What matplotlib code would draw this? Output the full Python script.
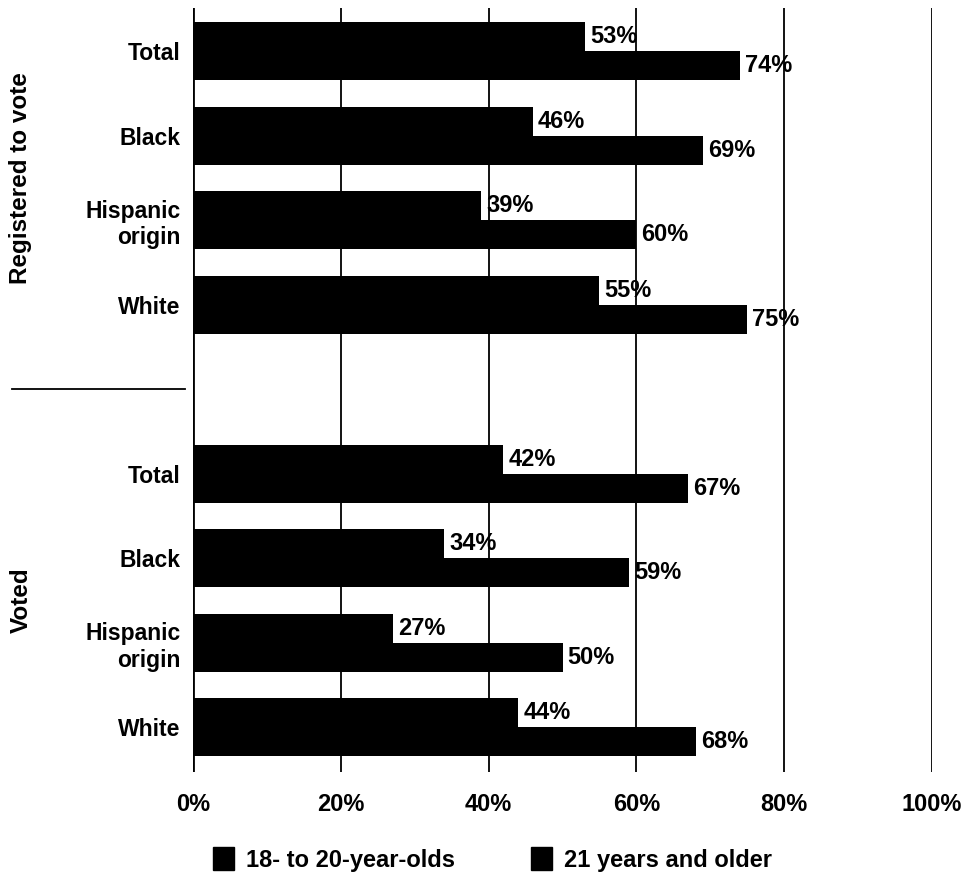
import numpy as np
import matplotlib
matplotlib.use("Agg")
import matplotlib.pyplot as plt
from matplotlib.patches import Patch
import matplotlib.transforms as mtransforms

plt.rcParams['font.family'] = ['Liberation Sans', 'DejaVu Sans']
plt.rcParams['font.weight'] = 'bold'

categories = ['Total', 'Black', 'Hispanic\norigin', 'White']
groups = ['Registered to vote', 'Voted']
series_names = ['18- to 20-year-olds', '21 years and older']

reg_young = [53, 46, 39, 55]
reg_older = [74, 69, 60, 75]
voted_young = [42, 34, 27, 44]
voted_older = [67, 59, 50, 68]
xticks = [0, 20, 40, 60, 80, 100]
xtick_labels = ['0%', '20%', '40%', '60%', '80%', '100%']

fig = plt.figure(figsize=(9.71, 8.76), dpi=100)
ax = fig.add_axes([0.1988, 0.1187, 0.761, 0.872])

# slot positions: 4 rows, one empty slot, 4 rows
pos_reg = np.arange(4)
pos_voted = np.arange(5, 9)
h = 0.343

young = reg_young + voted_young
older = reg_older + voted_older
pos = np.concatenate([pos_reg, pos_voted])

ax.barh(pos - h / 2, young, height=h, color='black', zorder=3)
ax.barh(pos + h / 2, older, height=h, color='black', zorder=3)

for p, v in zip(pos, young):
    ax.text(v + 0.7, p - h / 2, f'{v}%', va='center', ha='left',
            fontsize=17, fontweight='bold', zorder=4)
for p, v in zip(pos, older):
    ax.text(v + 0.7, p + h / 2, f'{v}%', va='center', ha='left',
            fontsize=17, fontweight='bold', zorder=4)

# grid lines
ax.axvline(0, color='black', lw=2, zorder=2)
for x in xticks[1:]:
    ax.axvline(x, color='black', lw=1.3, zorder=1)

ax.set_xlim(0, 100)
ax.set_ylim(8.53, -0.51)
for s in ax.spines.values():
    s.set_visible(False)

ax.set_xticks(xticks)
ax.set_xticklabels(xtick_labels, fontsize=17, fontweight='bold')
ax.set_yticks(pos)
ax.set_yticklabels(categories * 2, fontsize=16.5, fontweight='bold')
ax.tick_params(axis='x', length=0, pad=15)
ax.tick_params(axis='y', length=0, pad=9)

# group labels and separator
trans = mtransforms.blended_transform_factory(fig.transFigure, ax.transData)
ax.text(21 / 971, 1.5, groups[0], rotation=90, va='center', ha='center',
        fontsize=17.5, fontweight='bold', transform=trans)
ax.text(21 / 971, 6.5, groups[1], rotation=90, va='center', ha='center',
        fontsize=17.5, fontweight='bold', transform=trans)
ax.plot([12 / 971, 185 / 971], [4, 4], color='black', lw=1.3,
        transform=trans, clip_on=False)

handles = [Patch(facecolor='black', edgecolor='black'),
           Patch(facecolor='black', edgecolor='black')]
fig.legend(handles, series_names, loc='center', bbox_to_anchor=(0.507, 0.019),
           ncol=2, frameon=False, handlelength=0.9,
           handleheight=1.15, handletextpad=0.5, columnspacing=3.2,
           borderaxespad=0, borderpad=0,
           prop={'weight': 'bold', 'size': 17})

fig.savefig('out.png', dpi=100, facecolor='white')
